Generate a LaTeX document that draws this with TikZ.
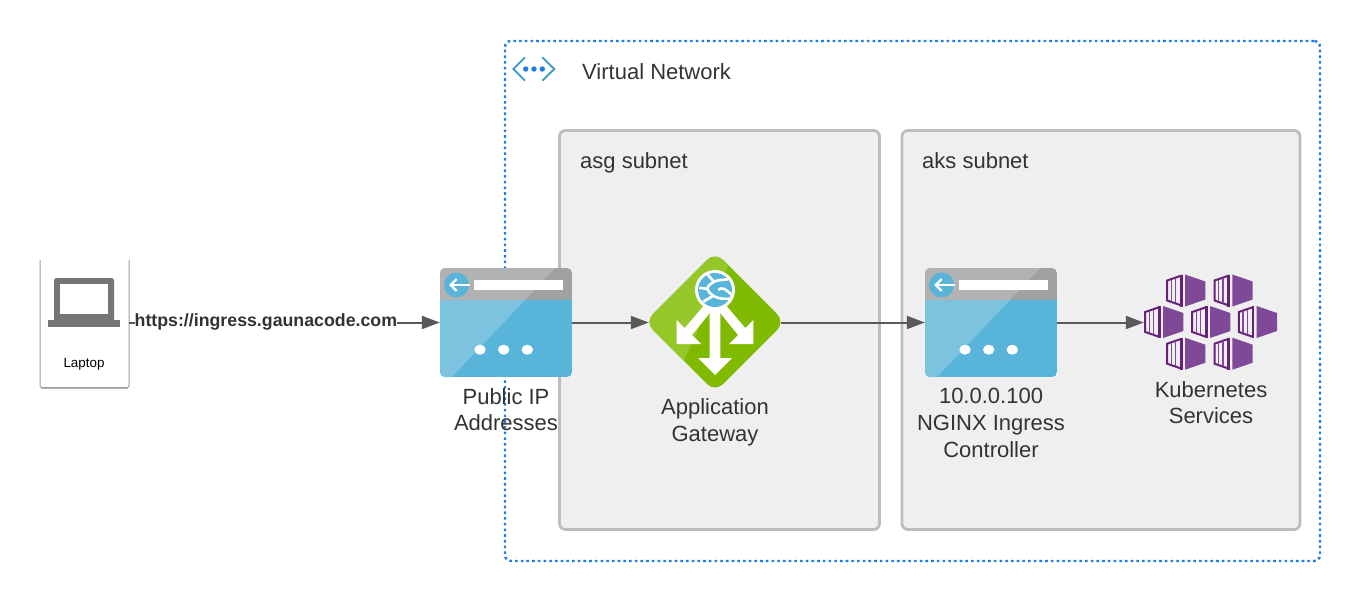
\documentclass[tikz,border=0pt]{standalone}
\usepackage{fontspec}
\setmainfont{Liberation Sans}
\usepackage{tikz}
\usetikzlibrary{arrows.meta}
\definecolor{inktext}{HTML}{333333}
\definecolor{linkgray}{HTML}{595959}
\definecolor{vnetblue}{HTML}{1A7FE0}
\definecolor{chevblue}{HTML}{3999C6}
\definecolor{subfill}{HTML}{EFEFEF}
\definecolor{subline}{HTML}{BDBDBD}
\definecolor{ipblue}{HTML}{59B4D9}
\definecolor{iplight}{HTML}{7CC3E0}
\definecolor{ipgray}{HTML}{A0A1A3}
\definecolor{ipgraylight}{HTML}{B2B2B2}
\definecolor{gwgreen}{HTML}{7FBA00}
\definecolor{gwlight}{HTML}{95C728}
\definecolor{kubedark}{HTML}{68217A}
\definecolor{kubefill}{HTML}{804998}
\definecolor{laptopgray}{HTML}{757575}

\begin{document}
\begin{tikzpicture}[x=1pt,y=-1pt,
bigtext/.style={font=\fontsize{22}{26.7}\selectfont,text=inktext,align=center,inner sep=0pt},
subnetbox/.style={draw=subline,fill=subfill,line width=2.8pt,rounded corners=6pt,minimum width=320pt,minimum height=399pt},
link/.style={draw=linkgray,line width=2pt,-{Triangle[length=18pt,width=13pt]}},
iconbox/.style={inner sep=0pt,minimum width=132pt,minimum height=109pt},
pics/pubip/.style={code={
\begin{scope}
\clip[rounded corners=5pt] (-66,-54.5) rectangle (66,54.5);
\fill[ipblue] (-66,-22.5) rectangle (66,54.5);
\fill[iplight] (-66,-22.5) -- (19,-22.5) -- (-54,54.5) -- (-66,54.5) -- cycle;
\fill[ipgray] (-66,-54.5) rectangle (66,-22.5);
\fill[ipgraylight] (-66,-54.5) -- (49,-54.5) -- (19,-22.5) -- (-66,-22.5) -- cycle;
\end{scope}
\fill[ipblue] (-49.5,-37.5) circle (12.5);
\fill[white] (-32,-42.5) rectangle (57,-32.5);
\draw[white,line width=2.2pt] (-36,-37.5) -- (-55,-37.5);
\draw[white,line width=2.2pt] (-49.3,-43.5) -- (-55.3,-37.5) -- (-49.3,-31.5);
\foreach \dotx in {-26,-2.3,21.3}
\fill[white] (\dotx,27.2) ellipse (5.7 and 5);
}},
pics/gateway/.style={code={
\begin{scope}
\clip[rounded corners=11pt] (0,-70) -- (70,0) -- (0,70) -- (-70,0) -- cycle;
\fill[gwgreen] (-70,-70) rectangle (70,70);
\fill[gwlight] (-70,-70) -- (20,-70) -- (-32,40) -- (-70,70) -- cycle;
\end{scope}
\fill[white] (-5.3,-20) -- (5.3,-20) -- (5.3,36) -- (17,36) -- (0,53) -- (-17,36) -- (-5.3,36) -- cycle;
\fill[white] (-38.3,-2) -- (-30.3,6) -- (-9,-19) -- (-2,-19) -- (-2,-13) -- (-23,13) -- (-14,22) -- (-38.3,22) -- cycle;
\fill[white] (38.3,-2) -- (30.3,6) -- (9,-19) -- (2,-19) -- (2,-13) -- (23,13) -- (14,22) -- (38.3,22) -- cycle;
\fill[white] (0,-32) circle (20);
\begin{scope}
\clip (0,-32) circle (17);
\fill[ipblue] (0,-32) circle (17);
\draw[white,line width=2.6pt] (-7.7,-47.7) -- (-1,-40.3);
\draw[white,line width=2.6pt] (14.3,-43) .. controls (8,-42) and (2,-42) .. (-1,-40.3) .. controls (-5,-38) and (-8,-35) .. (-7.7,-33) .. controls (-7,-30) and (-4,-28) .. (-1.7,-26.3) .. controls (1,-24) and (10,-22) .. (16.7,-23.7);
\draw[white,line width=2.6pt] (-15.7,-34.3) -- (-7.7,-33);
\draw[white,line width=2.6pt] (3.3,-32) .. controls (6,-35) and (10,-34) .. (16.7,-27);
\draw[white,line width=2.6pt] (-11.7,-20.3) -- (-1.7,-26.3);
\end{scope}
}},
pics/kubecube/.style={code={
\fill[kubefill] (1.3,-16) -- (21.7,-9) -- (21.7,9) -- (1.3,16) -- cycle;
\draw[kubedark,line width=2pt,line join=miter] (-2,-15) -- (-16.5,-10) -- (-16.5,10) -- (-2,15);
\draw[kubedark,line width=2.4pt] (-2.4,-16) -- (-2.4,16);
\draw[kubefill,line width=1.4pt] (-12.3,-11) -- (-12.3,11);
\draw[kubefill,line width=1.4pt] (-8,-12.5) -- (-8,12.5);
}}]
\path[fill=white,use as bounding box] (0,0) rectangle (1362,603);
\node[draw=vnetblue,line width=2.4pt,dash pattern=on 2.6pt off 3.1pt,rounded corners=6pt,minimum width=815pt,minimum height=520pt,inner sep=0pt] (vnet) at (912.5,301) {};
\node[bigtext,anchor=base west] (vnetlabel) at (582,79) {Virtual Network};
\draw[chevblue,line width=1.8pt] (525,57.3) -- (513.3,69) -- (525,80.7);
\draw[chevblue,line width=1.8pt] (542.3,57.3) -- (554.3,69) -- (542.3,80.7);
\foreach \dotx in {525.7,534,542.3}
\fill[vnetblue] (\dotx,69) circle (2.7);
\node[subnetbox] (asg) at (719.5,330) {};
\node[subnetbox,minimum width=398pt] (aks) at (1101,330) {};
\node[bigtext,anchor=base west] (asglabel) at (580,168) {asg subnet};
\node[bigtext,anchor=base west] (akslabel) at (922,168) {aks subnet};
\draw[gray!75,line width=1pt,rounded corners=2pt] (40,260) -- (40,387.5) -- (129,387.5) -- (129,260);
\draw[gray!60,line width=1pt] (41,388.5) -- (128,388.5);
\node[inner sep=0pt,minimum width=89pt,minimum height=128pt] (laptop) at (84.5,324) {};
\fill[laptopgray,rounded corners=2.5pt] (54,278) rectangle (114,322);
\fill[white] (60,284) rectangle (108,314);
\fill[laptopgray] (47.7,320) rectangle (120,326.5);
\node[font=\fontsize{13.4}{15}\selectfont,inner sep=0pt] (laptoplabel) at (84,364) {Laptop};
\node[iconbox] (pip) at (506,322.5) {};
\node[iconbox,minimum height=128pt] (agw) at (715,322.5) {};
\node[iconbox] (nginx) at (991,322.5) {};
\node[inner sep=0pt,minimum width=134pt,minimum height=97pt] (kube) at (1211,322.5) {};
\draw[link] (laptop.east |- pip.west) -- node[pos=0.44,yshift=1pt,fill=white,inner sep=0pt,text=inktext,font=\fontsize{17.75}{20}\selectfont\bfseries] (urllabel) {https://ingress.gaunacode.com} (pip.west);
\draw[link] (pip.east) -- (agw.west);
\draw[link] (agw.east) -- (nginx.west);
\draw[link] (nginx.east) -- (kube.west);
\pic at (pip) {pubip};
\pic at (715,322) {gateway};
\pic at (nginx) {pubip};
\foreach \cubex/\cubey in {1183.7/290.5,1231/290.5,1161.7/322,1208.7/322,1255.3/322,1183.7/353.7,1231/353.7}
\pic at (\cubex,\cubey) {kubecube};
\node[bigtext] (piplabel) at (506,409.5) {Public IP\\Addresses};
\node[bigtext] (agwlabel) at (715,422) {Application\\Gateway};
\node[bigtext] (nginxlabel) at (991,423) {10.0.0.100\\NGINX Ingress\\Controller};
\node[bigtext] (kubelabel) at (1211,402.5) {Kubernetes\\Services};
\end{tikzpicture}
\end{document}
